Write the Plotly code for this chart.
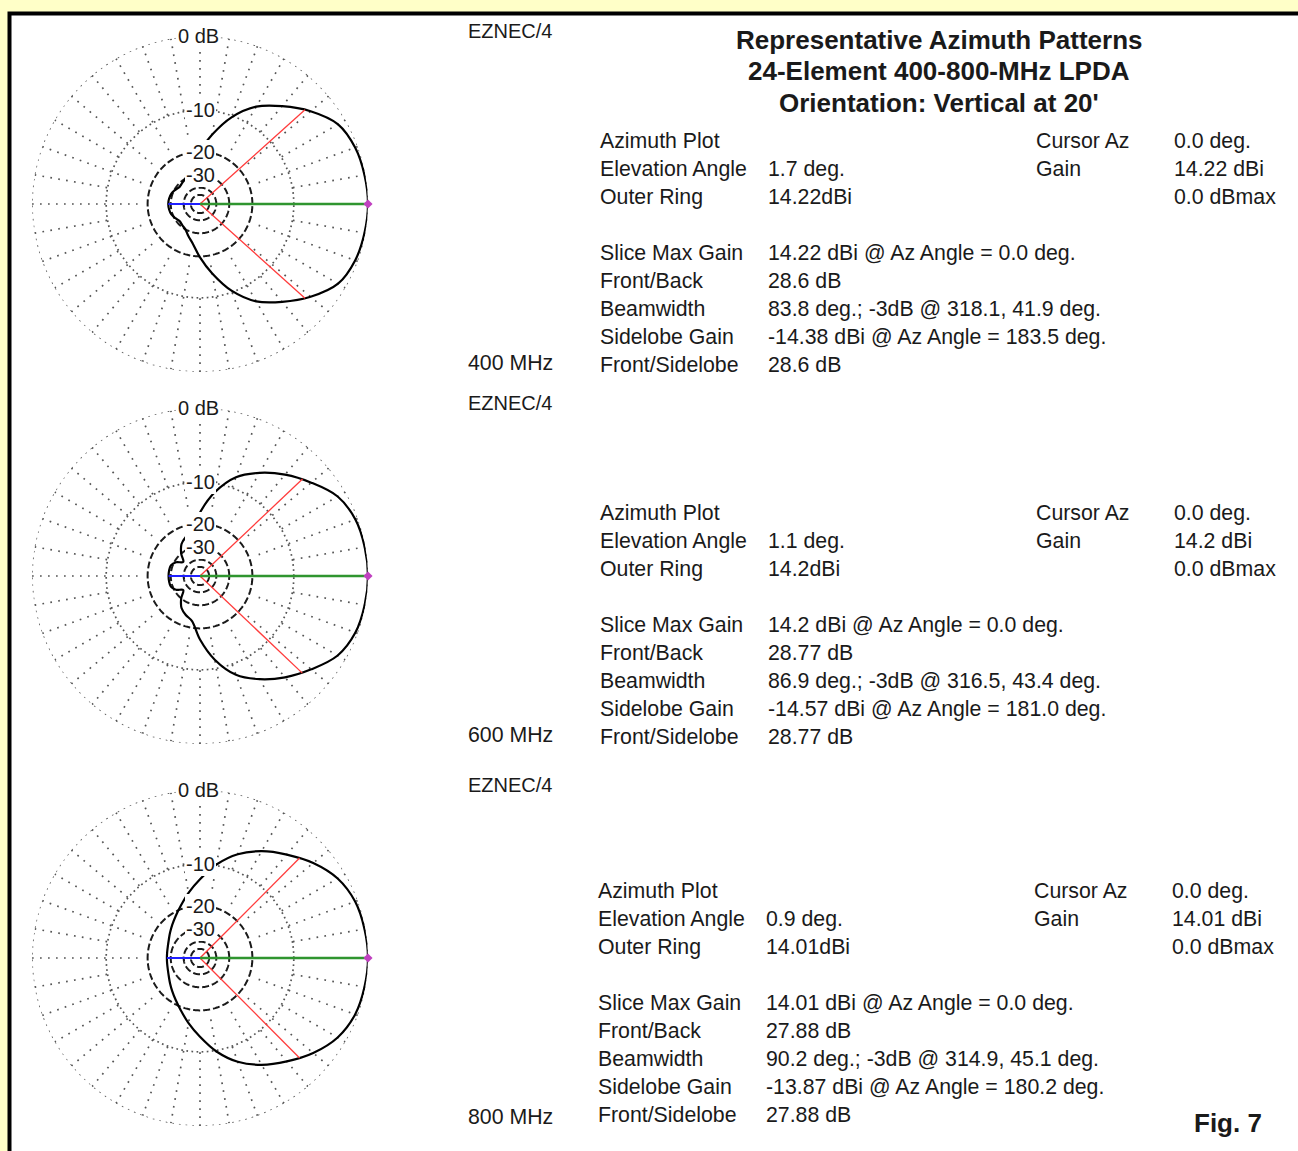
import plotly.graph_objects as go

W, H = 1298, 1151

# Azimuth samples (deg) and gain (dBi) for each frequency
AZIMUTH = list(range(0, 360, 10))

GAIN_400 = [14.22, 14.12, 13.92, 13.32, 11.62, 9.52, 7.32, 3.92, -0.68, -5.48,
            -10.18, -13.18, -15.78, -16.78, -17.38, -16.28, -15.08, -14.58, -14.38,
            -14.58, -15.08, -16.28, -17.38, -16.78, -15.78, -13.18, -10.18,
            -5.48, -0.68, 3.92, 7.32, 9.52, 11.62, 13.32, 13.92, 14.12]

GAIN_600 = [14.20, 14.12, 13.93, 13.25, 11.70, 10.10, 8.30, 6.15, 2.50, -2.50,
            -8.10, -9.80, -11.80, -15.80, -20.80, -16.80, -14.80, -14.60, -14.57,
            -14.60, -14.80, -16.80, -20.80, -15.80, -11.80, -9.80, -8.10,
            -2.50, 2.50, 6.15, 8.30, 10.10, 11.70, 13.25, 13.93, 14.12]

GAIN_800 = [14.01, 13.91, 13.71, 13.06, 11.81, 10.26, 8.71, 6.81, 4.21, 1.01,
            -1.99, -4.89, -7.29, -9.29, -10.99, -12.39, -13.29, -13.74, -13.87,
            -13.74, -13.29, -12.39, -10.99, -9.29, -7.29, -4.89, -1.99,
            1.01, 4.21, 6.81, 8.71, 10.26, 11.81, 13.06, 13.71, 13.91]

BANDS = ["400 MHz", "600 MHz", "800 MHz"]
PATTERNS = [GAIN_400, GAIN_600, GAIN_800]
MAX_GAIN = [14.22, 14.2, 14.01]
ELEVATION = [1.7, 1.1, 0.9]
CURSOR_AZ = [0.0, 0.0, 0.0]
FRONT_BACK = [28.6, 28.77, 27.88]
BEAMWIDTH = [83.8, 86.9, 90.2]
HALF_POWER_LO = [318.1, 316.5, 314.9]
HALF_POWER_HI = [41.9, 43.4, 45.1]
SIDELOBE_GAIN = [-14.38, -14.57, -13.87]
SIDELOBE_AZ = [183.5, 181.0, 180.2]
FRONT_SIDELOBE = [28.6, 28.77, 27.88]

TITLE_LINES = ["Representative Azimuth Patterns",
               "24-Element 400-800-MHz LPDA",
               "Orientation: Vertical at 20'"]

RING_DB = [0, -10, -20, -30, -40, -50]
RING_LABELS = ["0 dB", "-10", "-20", "-30"]
SPOKE_AZ = list(range(0, 360, 10))
# inner end of each spoke (dB): every other spoke runs further in
SPOKE_INNER_DB = [-17 if a % 20 == 0 else -10 for a in SPOKE_AZ]

# ---- page geometry (pixels) ----
CX = 200                      # polar centre x
CY = [204, 576, 958]          # polar centres y
R = 168                       # outer ring radius
TEXT_TOP = [141, 513, 891]
TEXT_X = [(600, 768, 1036, 1174), (600, 768, 1036, 1174), (598, 766, 1034, 1172)]
ROW = 28

FONT = "Liberation Sans, Arial, sans-serif"
INK = "#1a1a1a"
GRID = "#555555"


def rr(rel_db):
    """ARRL log-periodic radial scale: 2 dB per 0.89 ratio."""
    return 0.89 ** (-rel_db / 2.0)


def px(x):
    return x / W


def py(y):
    return 1 - y / H


fig = go.Figure()
annotations = []

for k in range(3):
    pid = "polar" if k == 0 else f"polar{k + 1}"
    sub = pid
    cy = CY[k]
    gmax = MAX_GAIN[k]

    # rings
    for db in RING_DB:
        th = list(range(0, 361, 1))
        if db in (0, -10):
            ln = dict(color=GRID, width=1.7,
                      dash="1.7px,5px" if db == 0 else "1.7px,3.4px")
        else:
            ln = dict(color="#1a1a1a", width=2, dash="7px,3px")
        fig.add_trace(go.Scatterpolar(theta=th, r=[rr(db)] * len(th), mode="lines",
                                      line=ln, subplot=sub, hoverinfo="skip",
                                      showlegend=False))

    # spokes
    st, sr = [], []
    for a, inner in zip(SPOKE_AZ, SPOKE_INNER_DB):
        st += [a, a, None]
        sr += [rr(0), rr(inner), None]
    fig.add_trace(go.Scatterpolar(theta=st, r=sr, mode="lines",
                                  line=dict(color=GRID, width=1.7, dash="1.7px,6.3px"),
                                  subplot=sub, hoverinfo="skip", showlegend=False))

    # pattern
    g = PATTERNS[k]
    fig.add_trace(go.Scatterpolar(theta=AZIMUTH + [360],
                                  r=[rr(v - gmax) for v in g + [g[0]]],
                                  mode="lines", line=dict(color="#000000", width=2.2, shape="spline"),
                                  subplot=sub, showlegend=False))

    # -3 dB beamwidth markers
    for a in (HALF_POWER_LO[k], HALF_POWER_HI[k]):
        fig.add_trace(go.Scatterpolar(theta=[a, a], r=[0, rr(-3)], mode="lines",
                                      line=dict(color="#ff3b3b", width=1.3),
                                      subplot=sub, showlegend=False))
    # back direction
    fig.add_trace(go.Scatterpolar(theta=[180, 180], r=[0, rr(-FRONT_BACK[k])], mode="lines",
                                  line=dict(color="#1f1fff", width=2.2),
                                  subplot=sub, showlegend=False))
    # cursor
    fig.add_trace(go.Scatterpolar(theta=[CURSOR_AZ[k], CURSOR_AZ[k]], r=[0, 1], mode="lines",
                                  line=dict(color="#2f952f", width=2.6),
                                  subplot=sub, showlegend=False))
    fig.add_trace(go.Scatterpolar(theta=[CURSOR_AZ[k]], r=[1], mode="markers",
                                  marker=dict(color="#c040c0", size=7, symbol="diamond"),
                                  subplot=sub, showlegend=False))

    fig.update_layout(**{pid: dict(
        domain=dict(x=[px(CX - R), px(CX + R)], y=[py(cy + R), py(cy - R)]),
        bgcolor="rgba(0,0,0,0)",
        radialaxis=dict(visible=False, range=[0, 1]),
        angularaxis=dict(visible=False, rotation=0, direction="counterclockwise"),
    )})

    # ring labels
    for lab, db in zip(RING_LABELS, RING_DB):
        annotations.append(dict(x=px(CX - 2 if db == 0 else CX), y=py(cy - rr(db) * R),
                                text=lab, font=dict(family=FONT, size=20, color=INK),
                                bgcolor="white", borderpad=1, xanchor="center"))

    # program tag and band
    annotations.append(dict(x=px(468), y=py(cy - 173), text="EZNEC/4",
                            font=dict(family=FONT, size=20, color=INK)))
    annotations.append(dict(x=px(468), y=py(cy + 159), text=BANDS[k]))

    # readout block
    c0, c1, c2, c3 = TEXT_X[k]
    t = TEXT_TOP[k]
    rows = [
        (c0, 0, "Azimuth Plot"), (c2, 0, "Cursor Az"), (c3, 0, f"{CURSOR_AZ[k]} deg."),
        (c0, 1, "Elevation Angle"), (c1, 1, f"{ELEVATION[k]} deg."),
        (c2, 1, "Gain"), (c3, 1, f"{gmax} dBi"),
        (c0, 2, "Outer Ring"), (c1, 2, f"{gmax}dBi"), (c3, 2, "0.0 dBmax"),
        (c0, 4, "Slice Max Gain"), (c1, 4, f"{gmax} dBi @ Az Angle = {CURSOR_AZ[k]} deg."),
        (c0, 5, "Front/Back"), (c1, 5, f"{FRONT_BACK[k]} dB"),
        (c0, 6, "Beamwidth"),
        (c1, 6, f"{BEAMWIDTH[k]} deg.; -3dB @ {HALF_POWER_LO[k]}, {HALF_POWER_HI[k]} deg."),
        (c0, 7, "Sidelobe Gain"),
        (c1, 7, f"{SIDELOBE_GAIN[k]} dBi @ Az Angle = {SIDELOBE_AZ[k]} deg."),
        (c0, 8, "Front/Sidelobe"), (c1, 8, f"{FRONT_SIDELOBE[k]} dB"),
    ]
    for x, r_i, s in rows:
        annotations.append(dict(x=px(x), y=py(t + ROW * r_i), text=s))

for i, line in enumerate(TITLE_LINES):
    annotations.append(dict(x=px(939), y=py(40 + 31.5 * i), text=f"<b>{line}</b>",
                            xanchor="center", font=dict(family=FONT, size=26, color=INK)))

annotations.append(dict(x=px(1228), y=py(1123), text="<b>Fig. 7</b>", xanchor="center",
                        font=dict(family=FONT, size=26, color=INK)))

# shared annotation defaults
for a in annotations:
    a.setdefault("xref", "paper")
    a.setdefault("yref", "paper")
    a.setdefault("showarrow", False)
    a.setdefault("xanchor", "left")
    a.setdefault("yanchor", "middle")
    a.setdefault("borderpad", 0)
    a.setdefault("borderwidth", 0)
    a.setdefault("font", dict(family=FONT, size=21.3, color=INK))

fig.update_layout(
    width=W, height=H,
    margin=dict(l=0, r=0, t=0, b=0, pad=0),
    paper_bgcolor="#ffffc8",
    plot_bgcolor="white",
    annotations=annotations,
    shapes=[dict(type="rect", xref="paper", yref="paper",
                 x0=px(9.5), x1=px(1330), y0=py(1180), y1=py(13.5),
                 line=dict(color="black", width=4), fillcolor="white", layer="below")],
)

fig.write_html("out.html")
